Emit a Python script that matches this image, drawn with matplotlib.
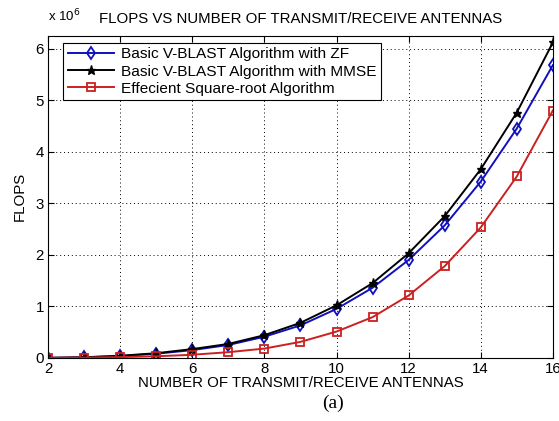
import matplotlib
matplotlib.use("Agg")
import matplotlib.pyplot as plt

plt.rcParams['font.family'] = ['Liberation Sans', 'DejaVu Sans']

antennas = [2, 3, 4, 5, 6, 7, 8, 9, 10, 11, 12, 13, 14, 15, 16]
zf = [0.0, 0.01, 0.035, 0.08, 0.15, 0.25, 0.41, 0.63, 0.95, 1.36, 1.90, 2.57, 3.42, 4.45, 5.68]
mmse = [0.0, 0.012, 0.04, 0.09, 0.17, 0.27, 0.44, 0.68, 1.02, 1.45, 2.03, 2.75, 3.66, 4.76, 6.12]
sqrt_alg = [0.0, 0.005, 0.015, 0.03, 0.06, 0.11, 0.18, 0.31, 0.51, 0.79, 1.21, 1.78, 2.53, 3.52, 4.80]
labels = ["Basic V-BLAST Algorithm with ZF",
          "Basic V-BLAST Algorithm with MMSE",
          "Effecient Square-root Algorithm"]

FS = 10.8

fig = plt.figure(figsize=(5.59, 4.21), dpi=100)
ax = fig.add_axes([0.086, 0.150, 0.903, 0.765])

ax.plot(antennas, zf, color='#1010c0', marker='d', mfc='none', mec='#1010c0',
        ms=6, mew=1.3, lw=1.4, label=labels[0])
ax.plot(antennas, mmse, color='black', marker='*', ms=6.5, lw=1.4, label=labels[1])
ax.plot(antennas, sqrt_alg, color='#cc2020', marker='s', mfc='none', mec='#cc2020',
        ms=6, mew=1.3, lw=1.4, label=labels[2])

ax.set_xlim(2, 16)
ax.set_ylim(0, 6.25)
ax.set_xticks(range(2, 17, 2))
ax.set_yticks(range(0, 7))
ax.grid(True, color='black', linestyle=(0, (1, 3)), linewidth=0.7)
ax.tick_params(direction='in', top=True, right=True, labelsize=FS, length=4, pad=3)
for s in ax.spines.values():
    s.set_linewidth(0.8)

ax.set_xlabel("NUMBER OF TRANSMIT/RECEIVE ANTENNAS", fontsize=FS, labelpad=0)
ax.set_ylabel("FLOPS", fontsize=FS, labelpad=6)
ax.set_title("FLOPS VS NUMBER OF TRANSMIT/RECEIVE ANTENNAS", fontsize=FS, pad=9)
fig.text(0.086, 0.942, r"x 10$^6$", fontsize=9.5, ha='left', va='bottom')

leg = ax.legend(loc='upper left', bbox_to_anchor=(0.03, 0.978), fontsize=11.1,
                frameon=True, fancybox=False, edgecolor='black', framealpha=1,
                borderpad=0.3, labelspacing=0.2, handlelength=3.0,
                handletextpad=0.45, borderaxespad=0)
leg.get_frame().set_linewidth(0.8)

fig.text(0.595, 0.042, "(a)", fontsize=14, ha='center', va='center',
         family=['Liberation Serif', 'DejaVu Serif'])

fig.savefig("out.png", dpi=100)
